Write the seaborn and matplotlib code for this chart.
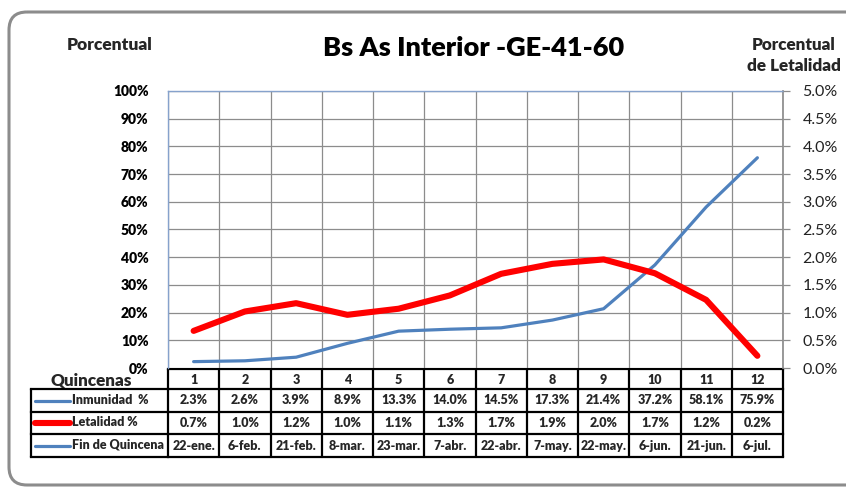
import numpy as np
import pandas as pd
import matplotlib
matplotlib.use("Agg")
import matplotlib.pyplot as plt
import seaborn as sns
from matplotlib.patches import FancyBboxPatch
from matplotlib.transforms import blended_transform_factory

# ---------------- data ----------------
quincenas = list(range(1, 13))
inmunidad = [2.3, 2.6, 3.9, 8.9, 13.3, 14.0, 14.5, 17.3, 21.4, 37.2, 58.1, 75.9]
letalidad = [0.67, 1.02, 1.17, 0.96, 1.07, 1.31, 1.70, 1.88, 1.96, 1.71, 1.23, 0.22]
fin_quincena = ["22-ene.", "6-feb.", "21-feb.", "8-mar.", "23-mar.", "7-abr.",
                "22-abr.", "7-may.", "22-may.", "6-jun.", "21-jun.", "6-jul."]
left_ticks = [0, 10, 20, 30, 40, 50, 60, 70, 80, 90, 100]
right_ticks = [0.0, 0.5, 1.0, 1.5, 2.0, 2.5, 3.0, 3.5, 4.0, 4.5, 5.0]
title = "Bs As Interior -GE-41-60"
row_labels = ["Inmunidad  %", "Letalidad %", "Fin de Quincena"]

BLUE = "#4F81BD"
RED = "#FF0000"
GRID = "#8c8c8c"

sns.set_theme(style="white")
plt.rcParams["font.family"] = ["Lato", "DejaVu Sans"]

W, H = 846, 487
fig = plt.figure(figsize=(W / 100, H / 100), dpi=100)
fig.patch.set_facecolor("white")

# background / overlay axes in pixel coordinates
bg = fig.add_axes([0, 0, 1, 1])
bg.set_xlim(0, W)
bg.set_ylim(H, 0)
bg.axis("off")
bg.set_autoscale_on(False)
bg.add_patch(FancyBboxPatch((9, 12), 900, 473,
                            boxstyle="round,pad=0,rounding_size=18",
                            fc="none", ec="#8c8c8c", lw=2.2))

# main plot area
L, R, T, B = 168, 783, 91, 368
ax = fig.add_axes([L / W, 1 - B / H, (R - L) / W, (B - T) / H])
ax.set_facecolor("white")
ax2 = ax.twinx()

sns.lineplot(x=quincenas, y=inmunidad, ax=ax, color=BLUE, linewidth=2.3)
sns.lineplot(x=quincenas, y=letalidad, ax=ax2, color=RED, linewidth=4.4,
             solid_capstyle="round")

ax.set_xlim(0.5, 12.5)
ax.set_ylim(0, 100)
ax.set_yticks(left_ticks)
ax.set_yticklabels([f"{t}%" for t in left_ticks], fontsize=10,
                   fontweight=800, color="black")
ax.set_xticks(np.arange(0.5, 13, 1))
ax.set_xticklabels([])
ax.tick_params(axis="x", length=0)
ax.tick_params(axis="y", length=0, pad=14)
ax.grid(True, color=GRID, linewidth=0.9)
ax.set_xlabel("")
ax.set_ylabel("")
for s in ["left", "top"]:
    ax.spines[s].set_color("#86a2cc")
    ax.spines[s].set_linewidth(1.0)
ax.spines["right"].set_color(GRID)
ax.spines["bottom"].set_visible(False)

ax2.set_ylim(0, 5)
ax2.set_yticks(right_ticks)
ax2.set_yticklabels([f"{t:.1f}%" for t in right_ticks], fontsize=11.5,
                    color="#222222")
ax2.tick_params(axis="y", length=5, color=GRID, width=0.9, pad=9)
ax2.set_ylabel("")
for s in ax2.spines.values():
    s.set_visible(False)

# ---------------- texts ----------------
bg.text(474, 48, title, ha="center", va="center", fontsize=19.5,
        fontweight=800, color="black")
bg.text(110, 45, "Porcentual", ha="center", va="center", fontsize=12.5,
        fontweight=800)
bg.text(794, 45, "Porcentual", ha="center", va="center", fontsize=12.3,
        fontweight=800)
bg.text(794, 66, "de Letalidad", ha="center", va="center", fontsize=12.3,
        fontweight=800)
bg.text(91, 381, "Quincenas", ha="center", va="center", fontsize=12.3,
        fontweight=800)

# ---------------- data table ----------------
tr = blended_transform_factory(ax.transData, bg.transData)
rows_y = [369, 389, 412, 434, 457]
LW = 1.6
x_left_px = 31
FS = 9
FW = 800

# horizontal lines
bg.plot([0.5, 12.5], [rows_y[0]] * 2, color="black", lw=LW, transform=tr,
        clip_on=False, solid_capstyle="projecting")
for y in rows_y[1:]:
    bg.plot([x_left_px, L], [y, y], color="black", lw=LW, clip_on=False,
            solid_capstyle="projecting")
    bg.plot([0.5, 12.5], [y, y], color="black", lw=LW, transform=tr,
            clip_on=False, solid_capstyle="projecting")
# vertical lines
bg.plot([x_left_px, x_left_px], [rows_y[1], rows_y[-1]], color="black",
        lw=LW, clip_on=False)
for xb in np.arange(0.5, 13, 1):
    bg.plot([xb, xb], [rows_y[0], rows_y[-1]], color="black", lw=LW,
            transform=tr, clip_on=False)

# header numbers and cell values
yc = [(rows_y[i] + rows_y[i + 1]) / 2 for i in range(4)]
for q in quincenas:
    bg.text(q, yc[0] + 1, str(q), transform=tr, ha="center", va="center",
            fontsize=FS, fontweight=FW)
    bg.text(q, yc[1], f"{inmunidad[q-1]:.1f}%", transform=tr, ha="center",
            va="center", fontsize=FS, fontweight=FW)
    bg.text(q, yc[2], f"{letalidad[q-1]:.1f}%", transform=tr, ha="center",
            va="center", fontsize=FS, fontweight=FW)
    bg.text(q, yc[3], fin_quincena[q - 1], transform=tr, ha="center",
            va="center", fontsize=FS, fontweight=FW)

# row labels with legend swatches
sw_styles = [(BLUE, 2.3), (RED, 4.4), (BLUE, 2.3)]
for i, (lab, (col, lw)) in enumerate(zip(row_labels, sw_styles)):
    y = yc[i + 1]
    bg.plot([35, 70], [y, y], color=col, lw=lw, solid_capstyle="round",
            clip_on=False)
    bg.text(72, y - 0.5, lab, ha="left", va="center", fontsize=FS,
            fontweight=FW)

fig.savefig("out.png", dpi=100, facecolor="white")
